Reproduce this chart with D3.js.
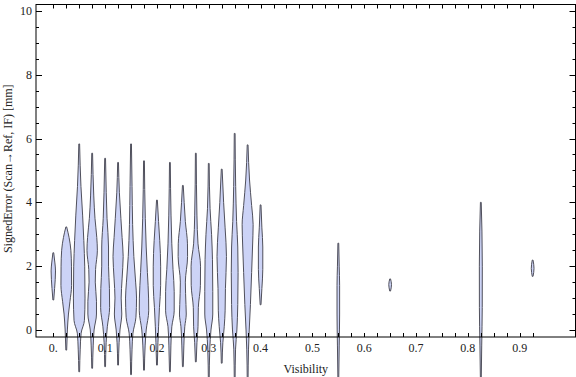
<!DOCTYPE html>
<html>
<head>
<meta charset="utf-8">
<script src="https://cdn.jsdelivr.net/npm/d3@7"></script>
<style>
  body { margin: 0; background: #fff; }
  svg { display: block; }
  text { font-family: "Liberation Serif", "DejaVu Serif", serif; fill: #222; }
</style>
</head>
<body>
<div id="chart"></div>
<script>
// visibility bins (one violin each)
const binPositions = [0, 0.025, 0.05, 0.075, 0.1, 0.125, 0.15, 0.175, 0.2, 0.225,
  0.25, 0.275, 0.3, 0.325, 0.35, 0.375, 0.4, 0.55, 0.65, 0.825, 0.925];

// violin outlines: [signed error (mm), relative density]
const violinProfiles = [
  [[0.94,0],[1.3,0.15],[1.85,0.3],[2.1,0.2],[2.42,0]],
  [[-0.63,0],[0,0.12],[0.5,0.3],[0.9,0.55],[1.4,0.82],[2.0,0.8],[2.5,0.7],[2.9,0.4],[3.23,0]],
  [[-1.31,0],[-0.6,0.1],[-0.1,0.25],[0.3,0.8],[1.0,0.9],[2.0,0.85],[2.8,0.7],[3.6,0.5],[4.5,0.22],[5.83,0]],
  [[-1.2,0],[-0.5,0.1],[0,0.25],[0.5,0.65],[0.9,0.65],[1.5,0.45],[1.9,0.5],[2.5,0.8],[2.9,0.7],[3.5,0.4],[4.2,0.2],[5.54,0]],
  [[-1.15,0],[-0.4,0.1],[0.1,0.3],[0.7,0.68],[1.3,0.65],[2.0,0.5],[2.6,0.5],[3.5,0.25],[4.3,0.12],[5.38,0]],
  [[-1.1,0],[-0.4,0.1],[0,0.25],[0.5,0.55],[1.0,0.45],[1.6,0.6],[2.3,0.78],[2.9,0.6],[3.5,0.4],[4.3,0.15],[5.25,0]],
  [[-1.4,0],[-0.6,0.1],[-0.1,0.25],[0.4,0.75],[1.0,0.85],[1.5,0.7],[2.3,0.4],[3.3,0.2],[4.5,0.1],[5.83,0]],
  [[-1.26,0],[-0.5,0.12],[0,0.3],[0.6,0.72],[1.0,0.7],[1.8,0.5],[2.6,0.3],[3.5,0.15],[5.3,0]],
  [[-1.1,0],[-0.4,0.1],[0.1,0.2],[0.7,0.35],[1.4,0.55],[2.0,0.55],[2.8,0.4],[3.4,0.2],[4.07,0]],
  [[-1.31,0],[-0.5,0.1],[0.1,0.25],[0.6,0.65],[1.2,0.65],[1.9,0.45],[2.7,0.25],[3.6,0.12],[5.25,0]],
  [[-1.15,0],[-0.5,0.1],[0.1,0.25],[0.5,0.5],[0.8,0.45],[1.5,0.35],[2.3,0.72],[2.7,0.7],[3.4,0.35],[4.0,0.15],[4.53,0]],
  [[-1.0,0],[-0.4,0.12],[0.1,0.3],[0.7,0.35],[1.4,0.7],[2.0,0.72],[2.7,0.3],[3.6,0.12],[5.54,0]],
  [[-1.6,0],[-0.6,0.1],[0,0.3],[0.5,0.6],[1.2,0.6],[2.2,0.55],[3.0,0.4],[3.8,0.15],[5.22,0]],
  [[-1.04,0],[-0.4,0.12],[0.1,0.35],[0.6,0.5],[1.3,0.55],[2.3,0.72],[3.2,0.5],[4.0,0.25],[5.04,0]],
  [[-1.6,0],[-0.6,0.08],[0,0.3],[0.8,0.45],[1.8,0.5],[2.6,0.45],[3.4,0.25],[4.5,0.1],[6.16,0]],
  [[-1.6,0],[-0.6,0.08],[0,0.2],[0.8,0.4],[1.8,0.6],[2.6,0.75],[3.3,0.85],[3.9,0.6],[4.7,0.25],[5.8,0]],
  [[0.79,0],[1.3,0.15],[1.9,0.3],[2.6,0.3],[3.2,0.15],[3.92,0]],
  [[-1.6,0],[-0.5,0.08],[0.5,0.15],[1.4,0.15],[2.0,0.08],[2.72,0]],
  [[1.22,0],[1.42,0.16],[1.6,0]],
  [[-1.6,0],[-0.5,0.08],[0.7,0.17],[2.0,0.18],[3.1,0.12],[4.0,0]],
  [[1.68,0],[1.93,0.16],[2.19,0]]
];

const xTickLabels = ["0.", "0.1", "0.2", "0.3", "0.4", "0.5", "0.6", "0.7", "0.8", "0.9"];
const yTickValues = [0, 2, 4, 6, 8, 10];

const W = 576, H = 377;
const plotL = 36, plotR = 575.5, plotT = 4.5, plotB = 337;

const svg = d3.select("#chart").append("svg")
  .attr("width", W)
  .attr("height", H);

const x = d3.scaleLinear().domain([-0.0334, 1.0077]).range([plotL, plotR]);
const y = d3.scaleLinear().domain([-0.22, 10.2]).range([plotB, plotT]);
const halfWidth = d3.scaleLinear().domain([0, 1]).range([0, 6]);

// violins
const plot = svg.append("g");
binPositions.forEach((pos, i) => {
  const cx = x(pos);
  const area = d3.area()
    .y(d => y(d[0]))
    .x0(d => cx - halfWidth(d[1]) - 0.4)
    .x1(d => cx + halfWidth(d[1]) + 0.4)
    .curve(d3.curveMonotoneY);
  plot.append("path")
    .datum(violinProfiles[i])
    .attr("d", area)
    .attr("fill", "#ccd3f6")
    .attr("stroke", "#50505c")
    .attr("stroke-width", 1)
    .attr("stroke-linejoin", "round");
});

// frame
const frame = svg.append("g").attr("fill", "none").attr("stroke", "#000").attr("stroke-width", 1);
frame.append("rect")
  .attr("x", plotL).attr("y", plotT)
  .attr("width", plotR - plotL).attr("height", plotB - plotT);

// x ticks (bottom and top, every 0.025)
const xMinor = d3.range(0, 0.93, 0.025);
xMinor.forEach(v => {
  const px = Math.round(x(v)) + 0.5;
  frame.append("line").attr("x1", px).attr("x2", px).attr("y1", plotB).attr("y2", plotB - 4);
  frame.append("line").attr("x1", px).attr("x2", px).attr("y1", plotT).attr("y2", plotT + 4);
});

// y ticks (left and right)
d3.range(0, 10.01, 0.5).forEach(v => {
  const py = Math.round(y(v)) + 0.5;
  const len = yTickValues.includes(v) ? 6 : 3;
  frame.append("line").attr("x1", plotL).attr("x2", plotL + len).attr("y1", py).attr("y2", py);
  frame.append("line").attr("x1", plotR).attr("x2", plotR - len).attr("y1", py).attr("y2", py);
});

// tick labels
xTickLabels.forEach((lab, i) => {
  svg.append("text")
    .attr("x", x(i / 10))
    .attr("y", plotB + 15)
    .attr("text-anchor", "middle")
    .attr("font-size", 12)
    .text(lab);
});
yTickValues.forEach(v => {
  svg.append("text")
    .attr("x", plotL - 4)
    .attr("y", y(v) + 4)
    .attr("text-anchor", "end")
    .attr("font-size", 12)
    .text(v);
});

// axis labels
svg.append("text")
  .attr("x", (plotL + plotR) / 2)
  .attr("y", 373)
  .attr("text-anchor", "middle")
  .attr("font-size", 12)
  .text("Visibility");

svg.append("text")
  .attr("transform", `translate(12, ${(plotT + plotB) / 2 - 2}) rotate(-90)`)
  .attr("text-anchor", "middle")
  .attr("font-size", 12)
  .text("SignedError (Scan\u2192Ref, IF) [mm]");
</script>
</body>
</html>
